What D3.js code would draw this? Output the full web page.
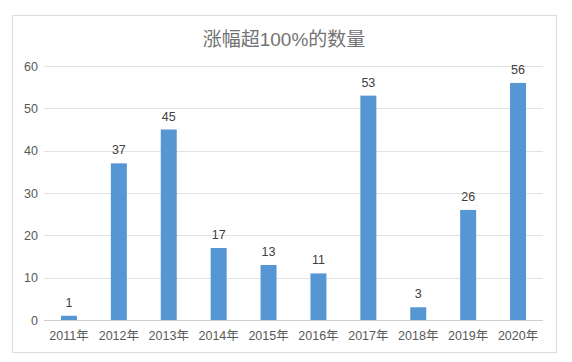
<html>
<head>
<meta charset="utf-8">
<style>
  body { margin: 0; background: #fff; }
  svg text { font-family: "Liberation Sans", "Noto Sans CJK SC", sans-serif; }
</style>
</head>
<body>
<div id="chart"></div>
<script src="https://d3js.org/d3.v7.min.js"></script>
<script>
  var years = ["2011年", "2012年", "2013年", "2014年", "2015年", "2016年", "2017年", "2018年", "2019年", "2020年"];
  var counts = [1, 37, 45, 17, 13, 11, 53, 3, 26, 56];
  var yTicks = [0, 10, 20, 30, 40, 50, 60];

  var data = years.map(function (y, i) { return { year: y, n: counts[i] }; });

  var svg = d3.select("#chart").append("svg")
    .attr("width", 572)
    .attr("height", 362);

  // chart frame
  svg.append("rect")
    .attr("x", 12.5).attr("y", 15.5)
    .attr("width", 544).attr("height", 337)
    .attr("fill", "#fff")
    .attr("stroke", "#dcdcdc");

  // bands centred in equal slots
  var x = d3.scaleBand().domain(years).range([44, 543])
    .paddingInner(0.68).paddingOuter(0.34);
  var y = d3.scaleLinear().domain([0, 60]).range([320, 66]);

  // gridlines
  svg.selectAll(".grid")
    .data(yTicks)
    .enter().append("line")
    .attr("x1", 44).attr("x2", 543)
    .attr("y1", function (d) { return Math.round(y(d)) + 0.5; })
    .attr("y2", function (d) { return Math.round(y(d)) + 0.5; })
    .attr("stroke", function (d) { return d === 0 ? "#cfcfcf" : "#e2e2e2"; });

  // y labels
  svg.selectAll(".ylab")
    .data(yTicks)
    .enter().append("text")
    .attr("x", 38)
    .attr("y", function (d) { return y(d) + 4.5; })
    .attr("text-anchor", "end")
    .style("font-size", "12.5px")
    .style("fill", "#595959")
    .text(function (d) { return d; });

  // bars
  svg.selectAll(".bar")
    .data(data)
    .enter().append("rect")
    .attr("x", function (d) { return x(d.year); })
    .attr("y", function (d) { return y(d.n); })
    .attr("width", x.bandwidth())
    .attr("height", function (d) { return y(0) - y(d.n); })
    .attr("fill", "#5596d3");

  // value labels
  svg.selectAll(".val")
    .data(data)
    .enter().append("text")
    .attr("x", function (d) { return x(d.year) + x.bandwidth() / 2; })
    .attr("y", function (d) { return y(d.n) - 9; })
    .attr("text-anchor", "middle")
    .style("font-size", "12.5px")
    .style("fill", "#404040")
    .text(function (d) { return d.n; });

  // x labels
  svg.selectAll(".xlab")
    .data(years)
    .enter().append("text")
    .attr("x", function (d) { return x(d) + x.bandwidth() / 2; })
    .attr("y", 340)
    .attr("text-anchor", "middle")
    .style("font-size", "12.5px")
    .style("fill", "#595959")
    .text(function (d) { return d; });

  // title
  svg.append("text")
    .attr("x", 284)
    .attr("y", 46)
    .attr("text-anchor", "middle")
    .style("font-size", "19px")
    .style("fill", "#737373")
    .text("涨幅超100%的数量");
</script>
</body>
</html>
